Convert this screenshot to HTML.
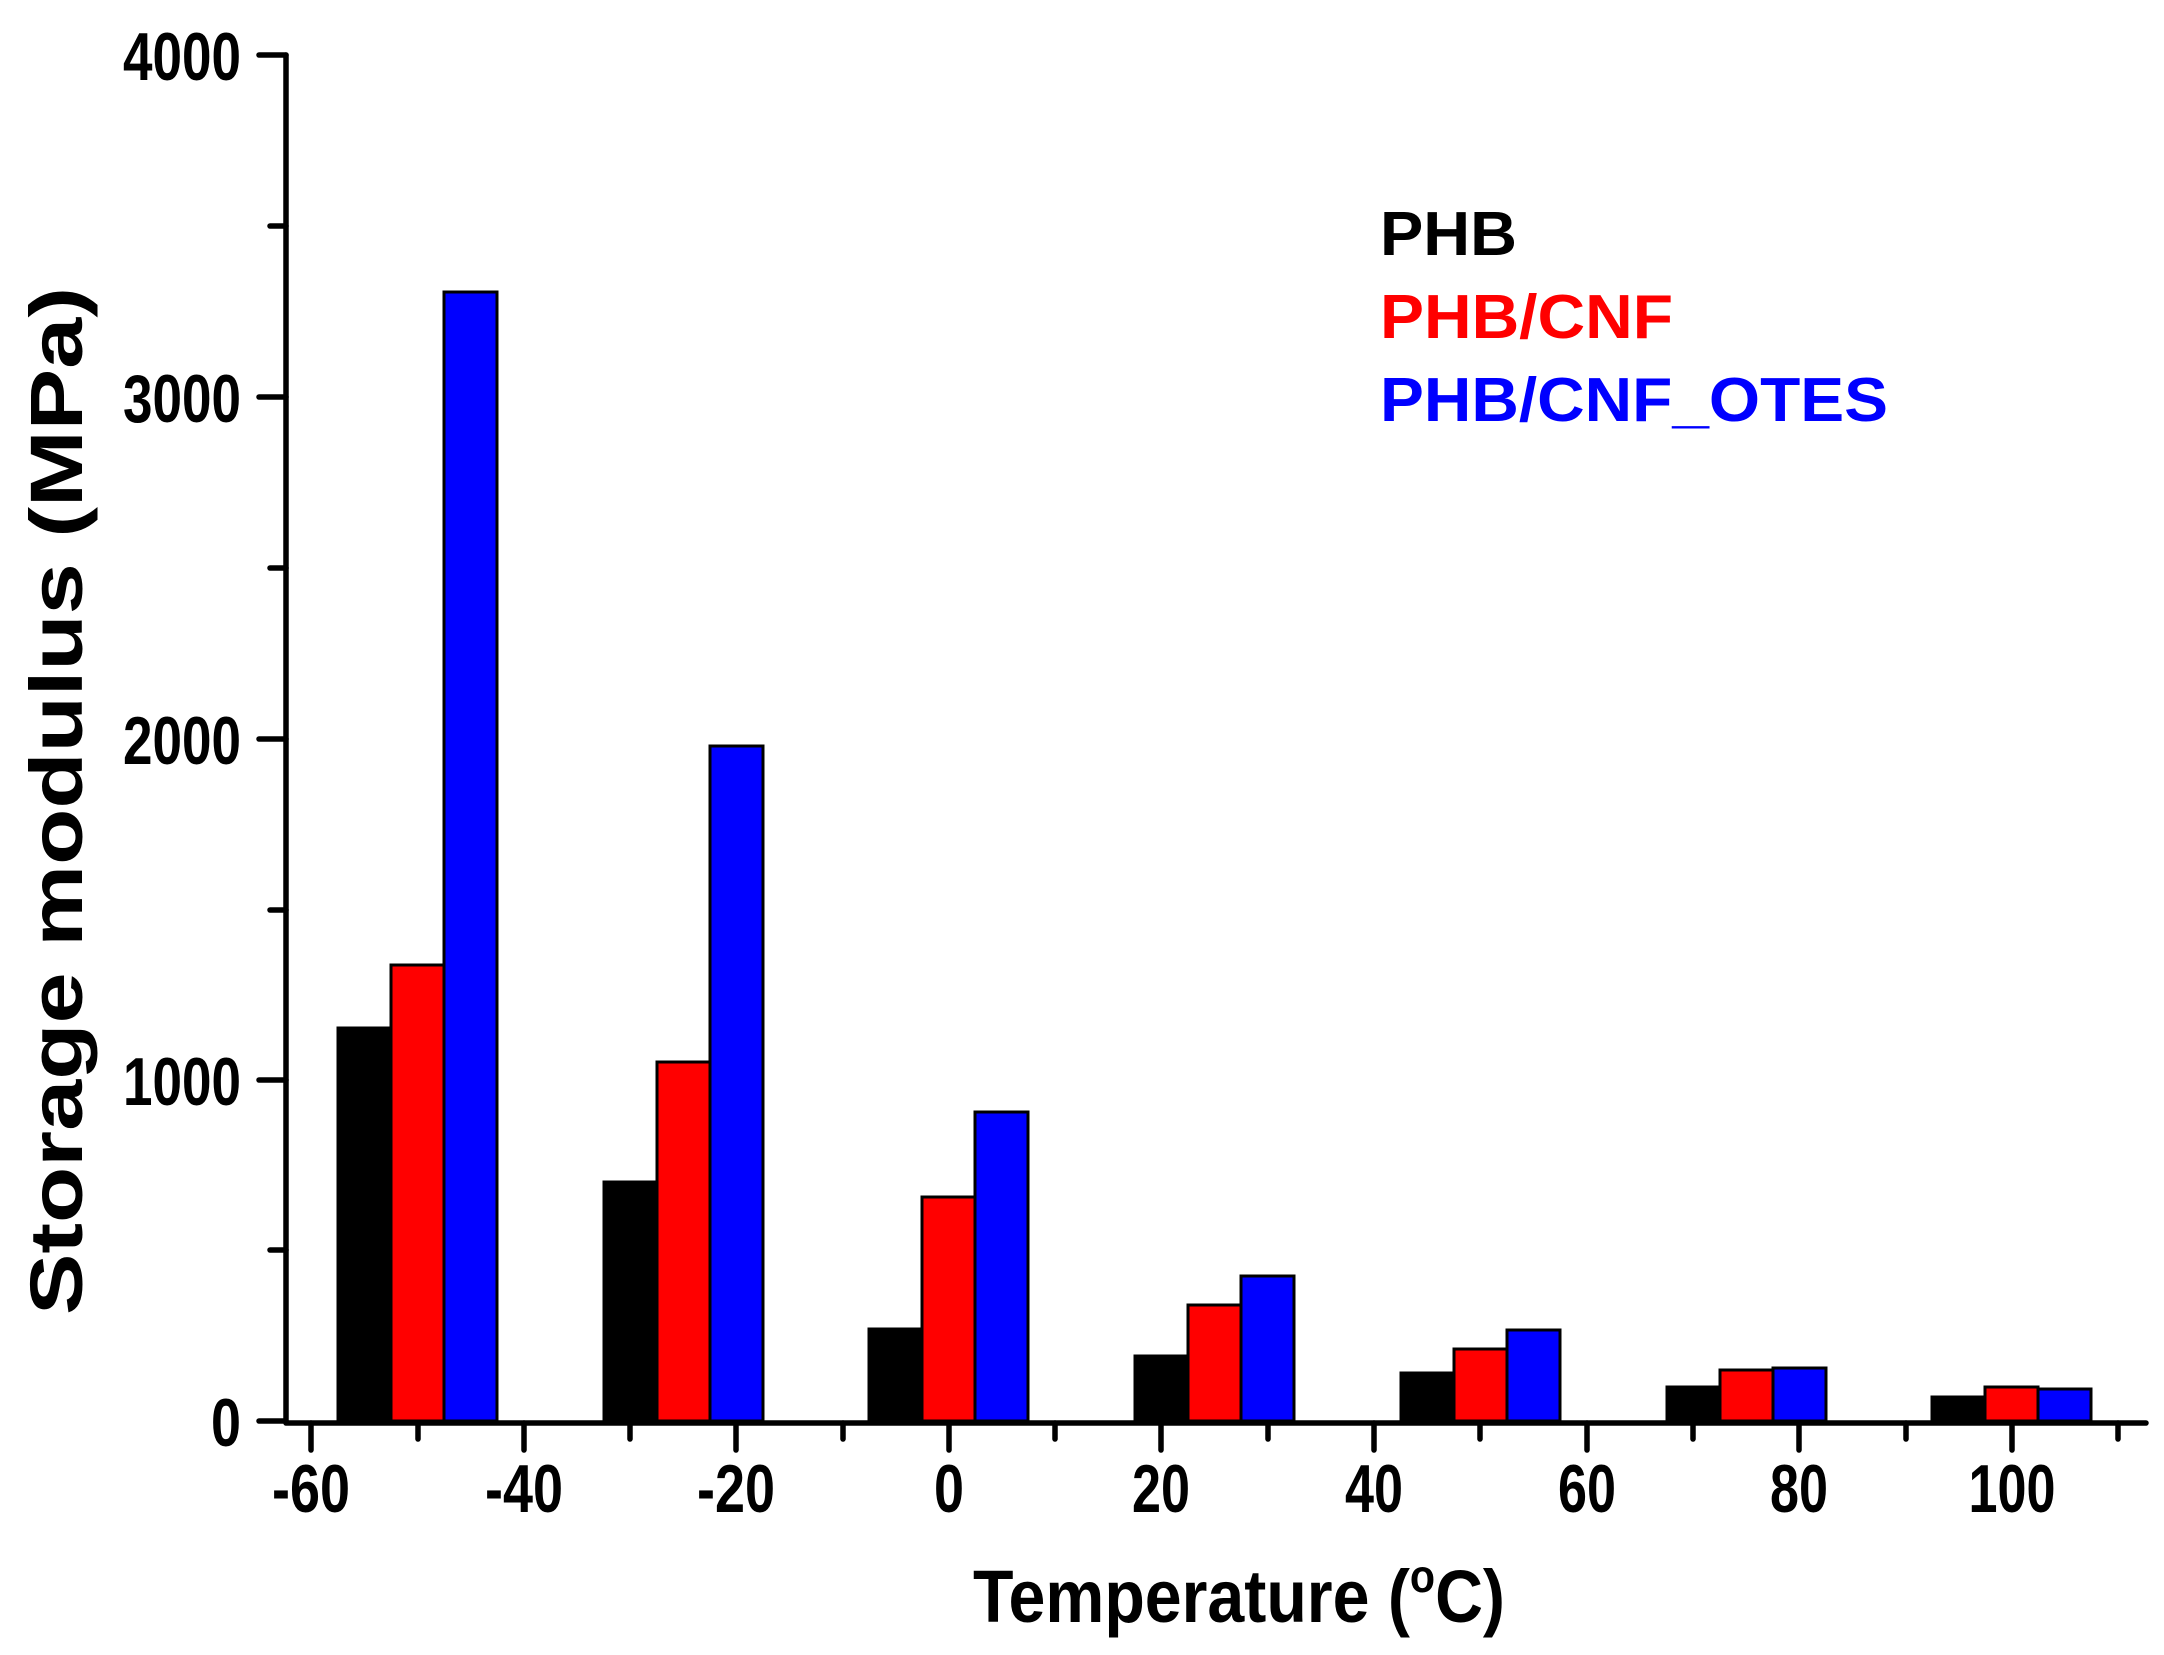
<!DOCTYPE html>
<html><head><meta charset="utf-8"><style>
html,body{margin:0;padding:0;background:#fff}
svg{display:block}
text{font-family:"Liberation Sans",Arial,sans-serif;font-weight:bold}
</style></head><body>
<svg width="2164" height="1655" viewBox="0 0 2164 1655" xmlns="http://www.w3.org/2000/svg">
<g stroke="#000" stroke-width="3">
<rect x="338" y="1028" width="53" height="393" fill="#000"/>
<rect x="391" y="965" width="53" height="456" fill="#f00"/>
<rect x="444" y="292" width="53" height="1129" fill="#00f"/>
<rect x="604" y="1182" width="53" height="239" fill="#000"/>
<rect x="657" y="1062" width="53" height="359" fill="#f00"/>
<rect x="710" y="746" width="53" height="675" fill="#00f"/>
<rect x="869" y="1329" width="53" height="92" fill="#000"/>
<rect x="922" y="1197" width="53" height="224" fill="#f00"/>
<rect x="975" y="1112" width="53" height="309" fill="#00f"/>
<rect x="1135" y="1356" width="53" height="65" fill="#000"/>
<rect x="1188" y="1305" width="53" height="116" fill="#f00"/>
<rect x="1241" y="1276" width="53" height="145" fill="#00f"/>
<rect x="1401" y="1373" width="53" height="48" fill="#000"/>
<rect x="1454" y="1349" width="53" height="72" fill="#f00"/>
<rect x="1507" y="1330" width="53" height="91" fill="#00f"/>
<rect x="1667" y="1387" width="53" height="34" fill="#000"/>
<rect x="1720" y="1370" width="53" height="51" fill="#f00"/>
<rect x="1773" y="1368" width="53" height="53" fill="#00f"/>
<rect x="1932" y="1397" width="53" height="24" fill="#000"/>
<rect x="1985" y="1387" width="53" height="34" fill="#f00"/>
<rect x="2038" y="1389" width="53" height="32" fill="#00f"/>
</g>
<g stroke="#000" stroke-width="5.5" stroke-linecap="round" fill="none">
<path d="M286 55 V1423 M286 1423 H2146"/>
<path d="M259 55 H286 M259 397 H286 M259 739 H286 M259 1080 H286 M259 1421 H286"/>
<path d="M270 226 H286 M270 568 H286 M270 910 H286 M270 1250 H286"/>
<path d="M311 1423 v27 M524 1423 v27 M736 1423 v27 M949 1423 v27 M1161 1423 v27 M1374 1423 v27 M1587 1423 v27 M1799 1423 v27 M2012 1423 v27"/>
<path d="M418 1423 v16 M630 1423 v16 M843 1423 v16 M1055 1423 v16 M1268 1423 v16 M1480 1423 v16 M1693 1423 v16 M1906 1423 v16 M2118 1423 v16"/>
</g>
<g font-size="68" text-anchor="end">
<text x="241" y="80" textLength="118" lengthAdjust="spacingAndGlyphs">4000</text>
<text x="241" y="422" textLength="118" lengthAdjust="spacingAndGlyphs">3000</text>
<text x="241" y="764" textLength="118" lengthAdjust="spacingAndGlyphs">2000</text>
<text x="241" y="1105" textLength="118" lengthAdjust="spacingAndGlyphs">1000</text>
<text x="241" y="1446" textLength="30" lengthAdjust="spacingAndGlyphs">0</text>
</g>
<g font-size="68" text-anchor="middle">
<text x="311" y="1512" textLength="78" lengthAdjust="spacingAndGlyphs">-60</text>
<text x="524" y="1512" textLength="78" lengthAdjust="spacingAndGlyphs">-40</text>
<text x="736" y="1512" textLength="78" lengthAdjust="spacingAndGlyphs">-20</text>
<text x="949" y="1512" textLength="30" lengthAdjust="spacingAndGlyphs">0</text>
<text x="1161" y="1512" textLength="58" lengthAdjust="spacingAndGlyphs">20</text>
<text x="1374" y="1512" textLength="58" lengthAdjust="spacingAndGlyphs">40</text>
<text x="1587" y="1512" textLength="58" lengthAdjust="spacingAndGlyphs">60</text>
<text x="1799" y="1512" textLength="58" lengthAdjust="spacingAndGlyphs">80</text>
<text x="2012" y="1512" textLength="87" lengthAdjust="spacingAndGlyphs">100</text>
</g>
<text x="973" y="1622" font-size="74" textLength="532" lengthAdjust="spacingAndGlyphs">Temperature (<tspan font-size="46" dy="-30">o</tspan><tspan dy="30">C)</tspan></text>
<text transform="translate(82,801) rotate(-90)" text-anchor="middle" font-size="74" textLength="1028" lengthAdjust="spacingAndGlyphs">Storage modulus (MPa)</text>
<g font-size="62">
<text x="1380" y="255" fill="#000" textLength="137" lengthAdjust="spacingAndGlyphs">PHB</text>
<text x="1380" y="338" fill="#f00" textLength="293" lengthAdjust="spacingAndGlyphs">PHB/CNF</text>
<text x="1380" y="421" fill="#00f" textLength="508" lengthAdjust="spacingAndGlyphs">PHB/CNF_OTES</text>
</g>
</svg>
</body></html>
